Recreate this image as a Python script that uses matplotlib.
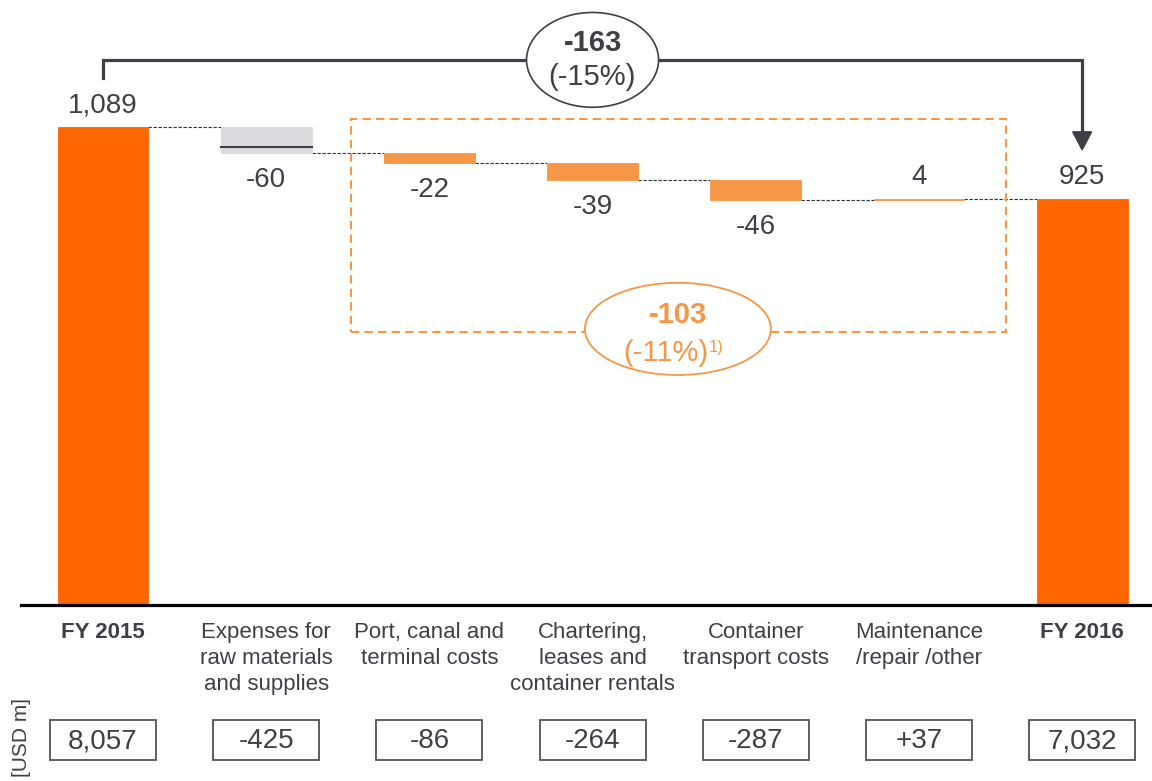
import matplotlib.pyplot as plt
from matplotlib.patches import Rectangle, Ellipse, Polygon

plt.rcParams['font.family'] = ['Liberation Sans', 'DejaVu Sans']

# Q4 EBIT bridge data (USD m)
categories = ["FY 2015", "Expenses for\nraw materials\nand supplies", "Port, canal and\nterminal costs",
              "Chartering,\nleases and\ncontainer rentals", "Container\ntransport costs",
              "Maintenance\n/repair /other", "FY 2016"]
bridge = [1089, -60, -22, -39, -46, 4, 925]
raw_material_split = 1044
full_year = [8057, -425, -86, -264, -287, 37, 7032]
total_change, total_pct = -163, -15
opex_change, opex_pct = -103, -11

DARK = '#3f3f47'
ORANGE = '#ff6600'
LIGHT_ORANGE = '#f79646'
GREY = '#dadadf'

fig = plt.figure(figsize=(11.52, 7.81), dpi=100)
ax = fig.add_axes([0, 0, 1, 1])
ax.set_xlim(-0.631, 6.428)
ax.set_ylim(-401, 1378.4)
ax.axis('off')

n = len(bridge)
w = 0.557

# bars
levels = []
running = 0
for i, v in enumerate(bridge):
    if i == 0 or i == n - 1:
        bottom, top = 0, v
        color = ORANGE
        running = v
    else:
        bottom, top = sorted([running, running + v])
        running += v
        color = GREY if i == 1 else LIGHT_ORANGE
    ax.bar(i, top - bottom, bottom=bottom, width=w, color=color,
           ec=color, lw=0.6, zorder=2)
    levels.append((bottom, top, running))

    label = f"{v:,}"
    if v >= 0:
        ax.annotate(label, (i, top), xytext=(0, 22), textcoords='offset pixels',
                    ha='center', va='center', fontsize=20, color=DARK)
    else:
        ax.annotate(label, (i, bottom), xytext=(0, -27), textcoords='offset pixels',
                    ha='center', va='center', fontsize=20, color=DARK)

# split line inside the raw materials bar
ax.plot([1 - w / 2, 1 + w / 2], [raw_material_split] * 2, color=DARK, lw=1.5, zorder=3)

# dashed connectors between bars
for i in range(n - 1):
    lvl = levels[i][2]
    ax.plot([i + w / 2, i + 1 - w / 2], [lvl, lvl], color='#2f2f35', lw=0.8,
            ls=(0, (3, 1.5)), zorder=1)

# baseline
ax.plot([-0.505, 6.428], [0, 0], color='black', lw=2.3, zorder=3)

# category labels
for i, cat in enumerate(categories):
    bold = i == 0 or i == n - 1
    ax.text(i, -39, cat, ha='center', va='top', fontsize=16, color=DARK,
            fontweight='bold' if bold else 'normal', linespacing=1.3)

# full-year values in boxes
box_w, box_h, box_y = 0.65, 91, -307.6
for i, v in enumerate(full_year):
    txt = f"{v:,}" if i in (0, n - 1) else f"{v:+,}"
    ax.add_patch(Rectangle((i - box_w / 2, box_y - box_h / 2), box_w, box_h,
                           fill=False, ec='#505058', lw=1.3))
    ax.text(i, box_y - 3, txt, ha='center', va='center', fontsize=20, color=DARK)

ax.text(-0.497, -302, "[USD m]", rotation=90, ha='center', va='center',
        fontsize=15, color=DARK)

# total change bracket with arrow
y_top = bridge[0] + 153
y_start = bridge[0] + 112
y_tip = bridge[-1] + 112
head_h, head_w = 41, 0.058
ax.plot([0, 0, n - 1, n - 1], [y_start, y_top, y_top, y_tip + head_h],
        color=DARK, lw=2.3, solid_joinstyle='miter', zorder=4)
ax.add_patch(Polygon([[n - 1 - head_w, y_tip + head_h], [n - 1 + head_w, y_tip + head_h],
                      [n - 1, y_tip]], closed=True, color=DARK, zorder=4))
ax.add_patch(Ellipse((3.0, y_top), 0.809, 216, fc='white', ec=DARK, lw=1.2, zorder=5))
ax.text(3.0, y_top + 39, f"{total_change}", ha='center', va='center', fontsize=21,
        fontweight='bold', color=DARK, zorder=6)
ax.text(2.995, y_top - 38, f"({total_pct}%)", ha='center', va='center', fontsize=21,
        color=DARK, zorder=6)

# operating cost subtotal box
bx0, bx1, by0, by1 = 1.52, 5.533, 622, 1107
ax.add_patch(Rectangle((bx0, by0), bx1 - bx0, by1 - by0, fill=False, ec=LIGHT_ORANGE,
                       lw=1.5, ls=(0, (4, 2.5)), zorder=1))
ex, ey = 3.523, 629
ax.add_patch(Ellipse((ex, ey), 1.14, 210, fc='white', ec=LIGHT_ORANGE, lw=1.3, zorder=5))
ax.text(ex, ey + 32, f"{opex_change}", ha='center', va='center', fontsize=21,
        fontweight='bold', color=LIGHT_ORANGE, zorder=6)
ax.text(3.707, ey - 55, f"({opex_pct}%)", ha='right', va='center', fontsize=21,
        color=LIGHT_ORANGE, zorder=6)
ax.text(3.712, ey - 42, "1)", ha='left', va='center', fontsize=12,
        color=LIGHT_ORANGE, zorder=6)

fig.savefig('out.png', dpi=100)
